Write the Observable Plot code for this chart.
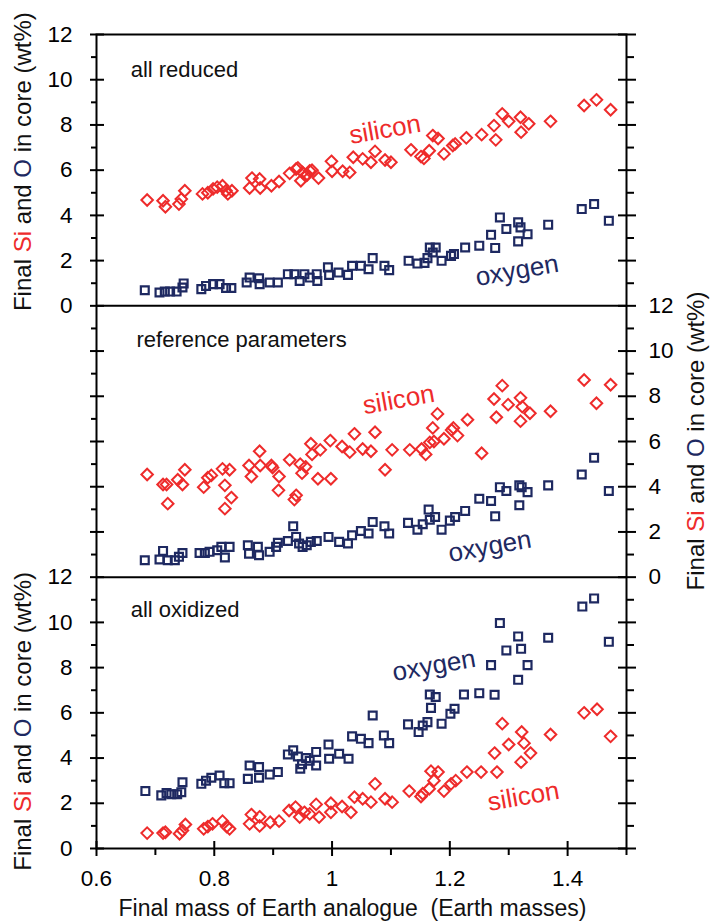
<!DOCTYPE html>
<html><head><meta charset="utf-8">
<script src="https://cdn.jsdelivr.net/npm/d3@7"></script>
<script src="https://cdn.jsdelivr.net/npm/@observablehq/plot@0.6"></script>
<style>
body{margin:0;background:#fff;}
#chart{position:relative;width:710px;height:923px;}
</style>
</head><body><div id="chart"></div>
<script>
const RED = "#ee2b2b";
const NAVY = "#1e2961";
const FONT = "'Liberation Sans', Arial, Helvetica, sans-serif";

// Panels (top to bottom) and their stacked offsets on a shared y scale
const panelNames = ["all reduced", "reference parameters", "all oxidized"];
const panelOffsets = [24, 12, 0];

// ---- Panel 1: all reduced ----
const reducedSiMass = [0.686,0.713,0.717,0.740,0.744,0.750,0.780,0.789,0.798,0.805,0.814,0.820,0.823,0.830,0.860,0.864,0.877,0.878,0.897,0.910,0.928,0.939,0.942,0.947,0.950,0.955,0.958,0.962,0.966,0.977,0.999,1.000,1.018,1.030,1.036,1.052,1.066,1.073,1.090,1.100,1.134,1.151,1.156,1.165,1.171,1.180,1.190,1.205,1.209,1.228,1.254,1.275,1.278,1.289,1.300,1.320,1.321,1.334,1.371,1.428,1.449,1.473];
const reducedSi     = [4.68,4.65,4.38,4.50,4.72,5.09,4.95,5.00,5.17,5.25,5.31,5.09,4.95,5.09,5.21,5.65,5.61,5.21,5.31,5.50,5.86,6.05,6.10,5.53,5.90,5.75,5.80,5.97,6.00,5.65,6.39,5.95,5.95,5.90,6.57,6.50,6.35,6.83,6.45,6.35,6.90,6.60,6.52,6.86,7.53,7.40,6.72,7.09,7.16,7.43,7.57,7.97,7.34,8.49,8.16,8.34,7.68,8.05,8.16,8.86,9.11,8.67];
const reducedOMass = [0.682,0.707,0.716,0.725,0.736,0.746,0.748,0.778,0.786,0.798,0.809,0.820,0.829,0.855,0.860,0.876,0.877,0.894,0.908,0.925,0.936,0.945,0.953,0.962,0.974,0.975,0.993,0.995,1.011,1.027,1.034,1.049,1.062,1.069,1.089,1.097,1.130,1.145,1.157,1.162,1.166,1.171,1.176,1.186,1.202,1.207,1.226,1.250,1.270,1.277,1.285,1.296,1.316,1.320,1.316,1.332,1.367,1.424,1.445,1.470];
const reducedO     = [0.69,0.59,0.63,0.63,0.63,0.81,0.99,0.74,0.88,0.96,0.96,0.79,0.79,1.03,1.25,1.22,0.96,1.03,1.03,1.40,1.40,1.10,1.40,1.25,1.40,1.10,1.70,1.37,1.47,1.37,1.77,1.77,1.62,2.11,1.77,1.58,1.99,1.87,1.90,2.11,2.58,2.36,2.58,1.99,2.21,2.29,2.58,2.66,3.14,2.56,3.91,3.40,3.69,3.47,2.85,3.17,3.59,4.28,4.50,3.76];

// ---- Panel 2: reference parameters ----
const refSiMass = [0.686,0.713,0.719,0.721,0.738,0.746,0.750,0.782,0.789,0.795,0.814,0.818,0.826,0.829,0.818,0.859,0.863,0.877,0.878,0.897,0.899,0.910,0.909,0.928,0.939,0.936,0.946,0.949,0.955,0.964,0.966,0.980,0.976,0.998,0.997,1.017,1.030,1.038,1.052,1.066,1.073,1.090,1.102,1.132,1.152,1.159,1.166,1.171,1.179,1.173,1.190,1.203,1.206,1.213,1.230,1.254,1.275,1.279,1.289,1.299,1.320,1.323,1.320,1.336,1.371,1.428,1.449,1.473];
const refSi     = [4.54,4.10,4.10,3.25,4.31,4.10,4.75,3.98,4.40,4.50,4.79,4.06,4.75,3.52,3.03,4.94,4.45,5.57,4.94,4.94,4.85,4.45,3.84,5.19,3.62,3.43,5.00,4.60,4.88,5.90,5.43,5.63,4.35,4.35,6.04,5.78,5.53,6.34,5.67,5.57,6.41,4.75,5.63,5.63,5.67,5.43,5.96,6.60,7.22,6.00,6.12,6.51,6.60,6.26,6.96,5.48,7.88,7.07,8.47,7.63,7.93,7.54,6.90,7.25,7.34,8.72,7.69,8.51];
const refOMass = [0.682,0.707,0.713,0.721,0.733,0.740,0.746,0.775,0.784,0.792,0.805,0.812,0.818,0.826,0.857,0.859,0.874,0.876,0.894,0.905,0.908,0.925,0.934,0.939,0.944,0.950,0.957,0.964,0.974,0.994,1.012,1.027,1.034,1.049,1.062,1.069,1.089,1.097,1.129,1.145,1.154,1.164,1.166,1.175,1.186,1.200,1.209,1.226,1.250,1.270,1.277,1.285,1.296,1.318,1.322,1.318,1.332,1.367,1.424,1.445,1.470];
const refO     = [0.75,0.78,1.16,0.75,0.75,0.90,1.07,1.07,1.07,1.12,1.19,1.34,0.87,1.34,1.41,1.04,1.34,0.97,1.12,1.34,1.52,1.60,2.25,1.78,1.49,1.34,1.41,1.56,1.60,1.78,1.56,1.49,1.85,2.04,1.93,2.44,2.25,1.93,2.40,2.10,2.34,2.99,2.54,2.66,2.10,2.50,2.66,2.93,3.47,3.37,2.69,3.98,3.81,4.06,3.98,3.18,3.76,4.06,4.54,5.28,3.81];

// ---- Panel 3: all oxidized ----
const oxSiMass = [0.686,0.713,0.717,0.741,0.746,0.751,0.782,0.789,0.797,0.814,0.821,0.826,0.860,0.863,0.877,0.877,0.895,0.910,0.927,0.938,0.945,0.953,0.962,0.973,0.978,0.998,0.998,1.017,1.032,1.038,1.052,1.066,1.073,1.090,1.102,1.131,1.151,1.154,1.165,1.168,1.173,1.180,1.190,1.202,1.210,1.229,1.253,1.280,1.276,1.289,1.300,1.322,1.326,1.321,1.337,1.371,1.428,1.450,1.473];
const oxSi     = [0.68,0.68,0.72,0.65,0.80,1.06,0.87,0.97,1.09,1.21,0.97,0.87,1.09,1.50,1.40,1.00,1.16,1.21,1.68,1.83,1.39,1.60,1.53,1.95,1.39,2.00,1.60,1.86,1.60,2.27,2.20,2.05,2.86,2.20,2.05,2.54,2.30,2.42,2.64,3.42,3.00,3.38,2.54,2.86,3.00,3.38,3.38,3.38,4.22,5.52,4.60,5.15,4.66,3.82,4.22,5.04,6.00,6.16,4.96];
const oxOMass = [0.683,0.710,0.719,0.727,0.737,0.744,0.746,0.778,0.786,0.795,0.809,0.817,0.826,0.857,0.860,0.876,0.876,0.894,0.908,0.925,0.934,0.942,0.946,0.949,0.956,0.962,0.973,0.973,0.994,0.995,1.012,1.028,1.034,1.049,1.062,1.069,1.088,1.097,1.129,1.147,1.154,1.162,1.166,1.168,1.176,1.186,1.201,1.208,1.224,1.250,1.276,1.270,1.285,1.296,1.316,1.321,1.332,1.316,1.367,1.425,1.445,1.470];
const oxO     = [2.54,2.35,2.45,2.40,2.40,2.49,2.93,2.86,3.00,3.13,3.23,2.89,2.89,3.08,3.67,3.60,3.13,3.27,3.38,4.16,4.34,4.07,3.53,3.73,4.00,3.88,4.27,3.67,4.60,3.97,4.19,3.97,4.96,4.85,4.66,5.88,5.00,4.66,5.49,5.15,5.44,5.59,6.81,6.22,6.70,5.52,5.96,6.18,6.81,6.87,6.80,8.11,9.97,8.76,9.38,8.83,8.11,7.46,9.32,10.70,11.06,9.14];

// Series text annotations: [panel index, element, mass, wt%]
const seriesLabels = [
  [0, "silicon", 1.090, 7.80], [0, "oxygen", 1.314, 1.56],
  [1, "silicon", 1.113, 7.85], [1, "oxygen", 1.268, 1.36],
  [2, "oxygen", 1.173, 8.09], [2, "silicon", 1.325, 2.30]
];
const panelLabelPos = [[0.658, 10.45], [0.668, 10.5], [0.658, 10.55]];

// Axis ticks
const xMajor = [0.6, 0.8, 1.0, 1.2, 1.4];
const xMinor = [0.7, 0.9, 1.1, 1.3, 1.5];
const yAll = d3.range(0, 37);
const yMajor = yAll.filter(v => v % 2 === 0);
const yMinor = yAll.filter(v => v % 2 === 1);
const leftLabels = [0,2,4,6,8,10,12,24,26,28,30,32,34,36];
const rightLabels = [12,14,16,18,20,22,24];

// Build tables
function rows(masses, vals, panel, el) {
  return masses.map((m, i) => ({mass: m, wt: vals[i], y: vals[i] + panelOffsets[panel], el}));
}
const siRows = [
  ...rows(reducedSiMass, reducedSi, 0, "Si"),
  ...rows(refSiMass, refSi, 1, "Si"),
  ...rows(oxSiMass, oxSi, 2, "Si")
];
const oRows = [
  ...rows(reducedOMass, reducedO, 0, "O"),
  ...rows(refOMass, refO, 1, "O"),
  ...rows(oxOMass, oxO, 2, "O")
];
const labelRows = seriesLabels.map(([p, t, m, v]) => ({text: t, mass: m, y: v + panelOffsets[p], color: t === "silicon" ? RED : NAVY}));
const panelRows = panelNames.map((n, i) => ({text: n, mass: panelLabelPos[i][0], y: panelLabelPos[i][1] + panelOffsets[i]}));

const fmtX = d => String(+d.toFixed(1));

const plot = Plot.plot({
  width: 710, height: 923,
  marginLeft: 96, marginRight: 84, marginTop: 34, marginBottom: 75,
  style: {fontFamily: FONT, background: "transparent", overflow: "visible", color: "#000"},
  x: {domain: [0.6, 1.5], axis: null, label: null},
  y: {domain: [0, 36], axis: null, label: null},
  marks: [
    Plot.dot(oRows, {x: "mass", y: "y", symbol: "square2", r: 5, stroke: NAVY, strokeWidth: 2.2, fill: "none"}),
    Plot.dot(siRows, {x: "mass", y: "y", symbol: "diamond2", r: 5.2, stroke: RED, strokeWidth: 2, fill: "none"}),
    Plot.frame({stroke: "#000", strokeWidth: 2}),
    Plot.ruleY([12, 24], {stroke: "#000", strokeWidth: 2}),
    // left ticks
    Plot.axisY({anchor: "left", ticks: yMajor, tickSize: 14, insetLeft: 8, tickFormat: () => "", strokeWidth: 2, label: null}),
    Plot.axisY({anchor: "left", ticks: yMinor, tickSize: 5, tickFormat: () => "", strokeWidth: 2, label: null}),
    Plot.axisY({anchor: "left", ticks: leftLabels, tickSize: 0, tickPadding: 24, tickFormat: v => String(v >= 24 ? v - 24 : v), fontSize: 22.5, label: null}),
    // right ticks
    Plot.axisY({anchor: "right", ticks: yMajor, tickSize: 18, insetRight: 9, tickFormat: () => "", strokeWidth: 2, label: null}),
    Plot.axisY({anchor: "right", ticks: yMinor, tickSize: 7, tickFormat: () => "", strokeWidth: 2, label: null}),
    Plot.axisY({anchor: "right", ticks: rightLabels, tickSize: 0, tickPadding: 22, tickFormat: v => String(v - 12), fontSize: 22.5, label: null}),
    // bottom ticks
    Plot.axisX({anchor: "bottom", ticks: xMajor, tickSize: 15, insetBottom: 7, tickFormat: () => "", strokeWidth: 2, label: null}),
    Plot.axisX({anchor: "bottom", ticks: xMinor, tickSize: 7, tickFormat: () => "", strokeWidth: 2, label: null}),
    Plot.axisX({anchor: "bottom", ticks: xMajor, tickSize: 0, tickPadding: 22, tickFormat: fmtX, fontSize: 22.5, label: null}),
    // annotations
    Plot.text(panelRows, {x: "mass", y: "y", text: "text", textAnchor: "start", fontSize: 22, fill: "#111"}),
    Plot.text(labelRows, {x: "mass", y: "y", text: "text", fill: "color", fontSize: 26, rotate: -10}),
    Plot.text(["Final mass of Earth analogue  (Earth masses)"], {frameAnchor: "bottom", text: d => d, dy: 67, dx: -9, fontSize: 23, fill: "#111"})
  ]
});

document.getElementById("chart").appendChild(plot);

// Rotated y-axis titles with coloured element symbols
const svg = d3.select(plot);
const yS = plot.scale("y");
function yTitle(x, cy) {
  const t = svg.append("text")
    .attr("transform", `translate(${x},${cy}) rotate(-90)`)
    .attr("text-anchor", "middle")
    .attr("dominant-baseline", "central")
    .attr("font-size", 24)
    .attr("font-family", FONT)
    .attr("fill", "#111");
  t.append("tspan").text("Final ");
  t.append("tspan").attr("fill", RED).text("Si");
  t.append("tspan").text(" and ");
  t.append("tspan").attr("fill", NAVY).text("O");
  t.append("tspan").text(" in core (wt%)");
}
yTitle(22, yS.apply(30) - 8);
yTitle(695, yS.apply(18));
yTitle(22, yS.apply(6) + 9);
</script>
</body></html>
